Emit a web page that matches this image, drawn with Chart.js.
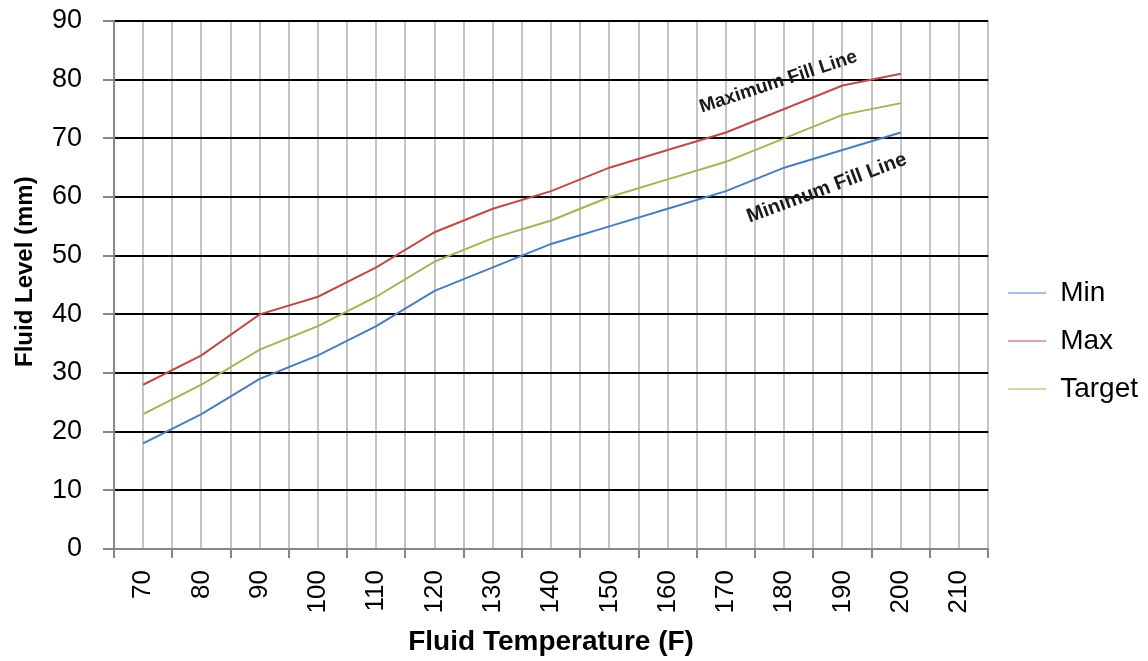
<!DOCTYPE html>
<html>
<head>
<meta charset="utf-8">
<script src="https://cdn.jsdelivr.net/npm/chart.js@4.4.1/dist/chart.umd.min.js"></script>
<style>
html,body{margin:0;padding:0;background:#fff;}
#wrap{width:1148px;height:661px;position:relative;}
</style>
</head>
<body>
<div id="wrap"><canvas id="c"></canvas></div>
<script>
// ---- data ----
const temperatures = [70, 80, 90, 100, 110, 120, 130, 140, 150, 160, 170, 180, 190, 200, 210];
const minLevel    = [18, 23, 29, 33, 38, 44, 48, 52, 55, 58, 61, 65, 68, 71];
const maxLevel    = [28, 33, 40, 43, 48, 54, 58, 61, 65, 68, 71, 75, 79, 81];
const targetLevel = [23, 28, 34, 38, 43, 49, 53, 56, 60, 63, 66, 70, 74, 76];
const seriesNames = ['Min', 'Max', 'Target'];
const yMin = 0, yMax = 90, yStep = 10;
const fillLabelTexts = ['Maximum Fill Line', 'Minimum Fill Line'];

const FONT = "'Liberation Sans', Arial, sans-serif";
const LAYOUT_LEFT = 0;
const Y_AXIS_WIDTH = 114;

const fillLabelsPlugin = {
  id: 'fillLabels',
  afterDatasetsDraw(chart, args, opts) {
    const ctx = chart.ctx;
    const xs = chart.scales.x, ys = chart.scales.y;
    opts.items.forEach(it => {
      const px = xs.getPixelForValue(it.x);
      const py = ys.getPixelForValue(it.y);
      ctx.save();
      ctx.translate(px, py);
      ctx.rotate(it.angle * Math.PI / 180);
      ctx.font = 'bold ' + it.size + 'px ' + FONT;
      ctx.fillStyle = '#1a1a1a';
      ctx.textAlign = 'center';
      ctx.textBaseline = 'middle';
      ctx.fillText(it.text, 0, 0);
      ctx.restore();
    });
  }
};

const gray = '#c4c4c4';
const axisGray = '#878787';

new Chart(document.getElementById('c'), {
  type: 'line',
  data: {
    labels: temperatures,
    datasets: [
      { label: seriesNames[0], data: minLevel,    borderColor: '#4A7EBB', backgroundColor: '#4A7EBB' },
      { label: seriesNames[1], data: maxLevel,    borderColor: '#BE4B48', backgroundColor: '#BE4B48' },
      { label: seriesNames[2], data: targetLevel, borderColor: '#98B954', backgroundColor: '#98B954' }
    ]
  },
  options: {
    responsive: true,
    maintainAspectRatio: false,
    animation: false,
    devicePixelRatio: 1,
    layout: { padding: { left: LAYOUT_LEFT, top: 21, right: 0, bottom: 0 } },
    elements: {
      line: { borderWidth: 2, tension: 0, fill: false },
      point: { radius: 0, hoverRadius: 0 }
    },
    plugins: {
      tooltip: { enabled: false },
      legend: {
        position: 'right',
        align: 'center',
        labels: {
          usePointStyle: true,
          pointStyle: 'line',
          pointStyleWidth: 38,
          color: '#000',
          font: { family: FONT, size: 28 },
          padding: 20
        }
      },
      fillLabels: {
        items: [
          { text: fillLabelTexts[0], x: 10.9, y: 79.6, angle: -18.2, size: 19 },
          { text: fillLabelTexts[1], x: 11.73, y: 61.5, angle: -20.4, size: 20 }
        ]
      }
    },
    scales: {
      x: {
        type: 'category',
        labels: temperatures,
        offset: true,
        grid: {
          offset: true,
          color: (c) => c.index === temperatures.length ? '#000' : gray,
          lineWidth: 2,
          tickColor: axisGray,
          tickLength: 9,
          tickWidth: 2
        },
        border: { display: true, color: axisGray, width: 2 },
        ticks: {
          autoSkip: false,
          minRotation: 90,
          maxRotation: 90,
          padding: 12,
          color: '#000',
          font: { family: FONT, size: 26 }
        },
        title: {
          display: true,
          text: 'Fluid Temperature (F)',
          color: '#000',
          font: { family: FONT, size: 28, weight: 'bold' },
          padding: { top: 0, bottom: 2 }
        }
      },
      x2: {
        type: 'category',
        labels: temperatures,
        position: 'top',
        offset: true,
        grid: {
          offset: false,
          color: gray,
          lineWidth: 2,
          drawTicks: false
        },
        border: { display: false },
        ticks: { display: false, autoSkip: false }
      },
      y: {
        min: yMin,
        max: yMax,
        afterFit: (s) => {
          s.width = Y_AXIS_WIDTH - LAYOUT_LEFT;
          s.paddingTop = 0;
          s.paddingBottom = 0;
        },
        ticks: {
          stepSize: yStep,
          padding: 21,
          color: '#000',
          font: { family: FONT, size: 27 }
        },
        grid: {
          color: (c) => (c.tick && c.tick.value === yMin) ? axisGray : '#000',
          lineWidth: 2,
          tickColor: axisGray,
          tickLength: 11,
          tickWidth: 2
        },
        border: { display: true, color: axisGray, width: 2 },
        title: {
          display: true,
          text: '    Fluid Level (mm)',
          color: '#000',
          font: { family: FONT, size: 24, weight: 'bold' },
          padding: { top: 11, bottom: 0 }
        }
      }
    }
  },
  plugins: [fillLabelsPlugin]
});
</script>
</body>
</html>
